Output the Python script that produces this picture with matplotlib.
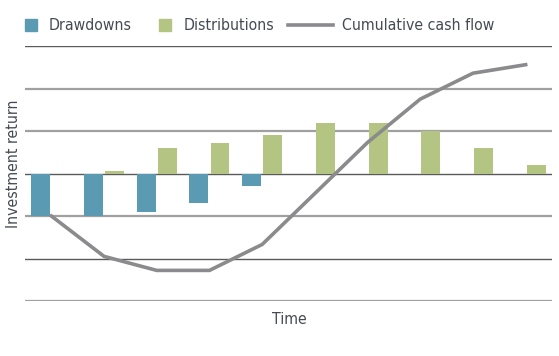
import matplotlib
matplotlib.use("Agg")
import matplotlib.pyplot as plt
from matplotlib.patches import Rectangle
from matplotlib.lines import Line2D

periods = list(range(10))
drawdowns = [-1.0, -1.0, -0.9, -0.7, -0.3, 0, 0, 0, 0, 0]
distributions = [0, 0.05, 0.59, 0.71, 0.9, 1.2, 1.2, 1.0, 0.6, 0.2]
cumulative = [-1.0, -1.95, -2.28, -2.28, -1.67, -0.47, 0.73, 1.75, 2.36, 2.56]
grid_levels = [3, 2, 1, 0, -1, -2, -3]

C_DRAW = "#5a9ab2"
C_DIST = "#b4c482"
C_LINE = "#8b8b8d"
C_TEXT = "#454b52"
plt.rcParams["font.family"] = ["DejaVu Sans"]
plt.rcParams["font.stretch"] = "condensed"
FS = 11.3

W, H = 559, 356
fig = plt.figure(figsize=(W / 100, H / 100), dpi=100)
ax = fig.add_axes([25 / W, 1 - 301 / H, (552 - 25) / W, (301 - 46) / H])

for lv in grid_levels:
    dark = lv in (3, 0, -2)
    ax.axhline(lv, color="#5a5a5a" if dark else "#a0a0a0",
               lw=1.0 if dark else 1.6, zorder=1)

bw = 0.36
ax.bar([p - 0.2 for p in periods], drawdowns, width=bw, color=C_DRAW, zorder=2)
ax.bar([p + 0.2 for p in periods], distributions, width=bw, color=C_DIST, zorder=2)
ax.plot(periods, cumulative, color=C_LINE, lw=2.6, zorder=3,
        solid_joinstyle="miter")

ax.set_xlim(-0.5, 9.5)
ax.set_ylim(-3, 3)
ax.axis("off")

txt = dict(fontsize=FS, color=C_TEXT, fontstretch="condensed")
fig.text(14 / W, 1 - 164 / H, "Investment return", rotation=90,
         ha="center", va="center", **txt)
fig.text(289 / W, 1 - 320 / H, "Time", ha="center", va="center", **txt)

# legend
ly = 25
def fx(x):
    return x / W
def fy(y):
    return 1 - y / H
fig.add_artist(Rectangle((fx(25), fy(ly + 6)), 12 / W, 12 / H,
                         transform=fig.transFigure, color=C_DRAW))
fig.text(fx(49), fy(ly), "Drawdowns", ha="left", va="center", **txt)
fig.add_artist(Rectangle((fx(159), fy(ly + 6)), 12 / W, 12 / H,
                         transform=fig.transFigure, color=C_DIST))
fig.text(fx(184), fy(ly), "Distributions", ha="left", va="center", **txt)
fig.add_artist(Line2D([fx(288), fx(333)], [fy(ly), fy(ly)],
                      transform=fig.transFigure, color=C_LINE, lw=2.6))
fig.text(fx(342), fy(ly), "Cumulative cash flow", ha="left", va="center", **txt)

fig.savefig("out.png", dpi=100)
